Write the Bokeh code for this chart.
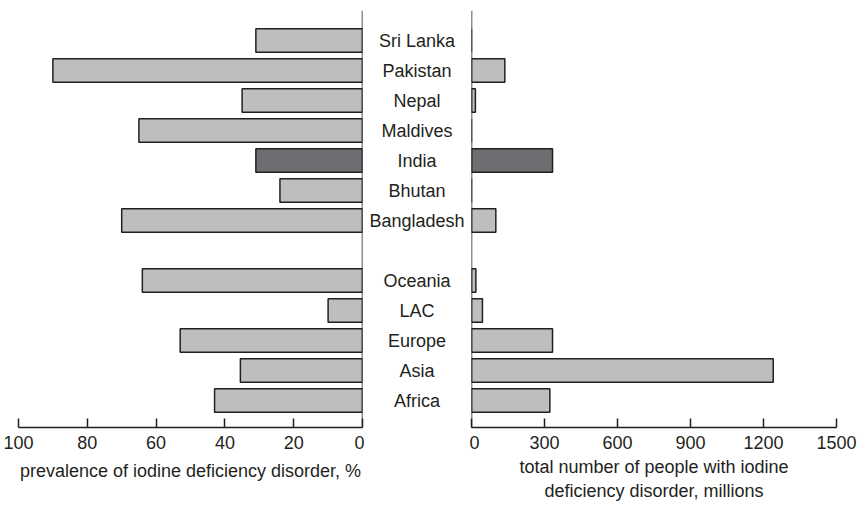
from bokeh.plotting import figure
from bokeh.models import Range1d, FixedTicker, Span, ColumnDataSource
from bokeh.layouts import row
from bokeh.embed import file_html
from bokeh.resources import INLINE
from bokeh.core.properties import value

# ---- data (top to bottom) ----
countries = ["Sri Lanka", "Pakistan", "Nepal", "Maldives", "India", "Bhutan", "Bangladesh"]
country_prevalence = [31, 90, 35, 65, 31, 24, 70]          # %
country_total = [0, 137, 16, 0, 333, 0, 100]               # millions
regions = ["Oceania", "LAC", "Europe", "Asia", "Africa"]
region_prevalence = [64, 10, 53, 35.5, 43]                  # %
region_total = [18, 45, 333, 1240, 322]                     # millions
highlight = "India"
left_ticks = [0, 20, 40, 60, 80, 100]
right_ticks = [0, 300, 600, 900, 1200, 1500]
left_title = "prevalence of iodine deficiency disorder, %"
right_title = "total number of people with iodine\ndeficiency disorder, millions"

FONT = "Liberation Sans"
FS = "18px"
TXT = "#231f20"
LIGHT = "#bcbec0"
DARK = "#6d6e71"

# row positions: regions at bottom, a gap, then countries
nreg = len(regions)
ncty = len(countries)
names = countries + regions
ypos = [nreg + 1 + (ncty - 1 - i) for i in range(ncty)] + [nreg - 1 - i for i in range(nreg)]
prev = country_prevalence + region_prevalence
tot = country_total + region_total
fills = [DARK if n == highlight else LIGHT for n in names]
src = ColumnDataSource(dict(name=names, y=ypos, prev=prev, tot=tot, fill=fills))

yr = Range1d(-0.9, nreg + ncty + 1)
H = 505
TOP = 10
BOT = 78


def style_xaxis(p, ticks, title, standoff):
    ax = p.xaxis[0]
    ax.ticker = FixedTicker(ticks=ticks)
    ax.minor_tick_line_color = None
    ax.major_tick_in = 9
    ax.major_tick_out = 0
    ax.axis_line_width = 1.5
    ax.major_tick_line_width = 1.5
    ax.axis_line_color = TXT
    ax.major_tick_line_color = TXT
    ax.major_label_text_font = FONT
    ax.major_label_text_font_size = FS
    ax.major_label_text_color = TXT
    ax.major_label_standoff = 8
    ax.axis_label = title
    ax.axis_label_text_font = FONT
    ax.axis_label_text_font_size = FS
    ax.axis_label_text_font_style = "normal"
    ax.axis_label_text_color = TXT
    ax.axis_label_standoff = standoff
    ax.axis_label_text_line_height = 1.2


def base(width, xr, mbl, mbr):
    p = figure(width=width, height=H, x_range=xr, y_range=yr,
               output_backend="svg", toolbar_location=None,
               y_axis_location=None, min_border_left=mbl, min_border_right=mbr,
               min_border_top=TOP, min_border_bottom=BOT)
    p.grid.visible = False
    p.outline_line_color = None
    p.background_fill_color = "white"
    p.border_fill_color = "white"
    return p


# left panel
pl = base(364, Range1d(100, 0), 18, 2)
pl.hbar(y="y", left=0, right="prev", height=0.78, source=src,
        fill_color="fill", line_color=TXT, line_width=1.5)
pl.add_layout(Span(location=0, dimension="height", line_color=TXT, line_width=1.5))
style_xaxis(pl, left_ticks, left_title, 9)

# middle labels
pm = figure(width=105, height=H, x_range=Range1d(-1, 1), y_range=yr,
            output_backend="svg", toolbar_location=None,
            x_axis_location=None, y_axis_location=None,
            min_border_left=0, min_border_right=0,
            min_border_top=TOP, min_border_bottom=BOT)
pm.grid.visible = False
pm.outline_line_color = None
pm.text(x=0, y="y", text="name", source=src, text_align="center",
        text_baseline="middle", text_font=value(FONT), text_font_size=FS,
        text_color=TXT)

# right panel
pr = base(389, Range1d(0, 1500), 2, 22)
pr.hbar(y="y", left=0, right="tot", height=0.78, source=src,
        fill_color="fill", line_color=TXT, line_width=1.5)
pr.add_layout(Span(location=0, dimension="height", line_color=TXT, line_width=1.5))
style_xaxis(pr, right_ticks, right_title, 5)

layout = row(pl, pm, pr, spacing=0)
open("out.html", "w").write(file_html(layout, INLINE))
